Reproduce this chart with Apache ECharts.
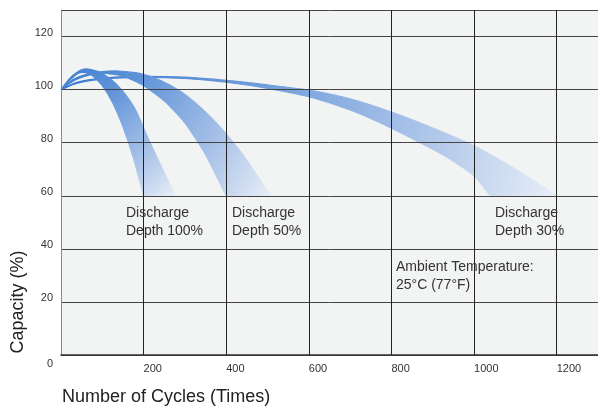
<!DOCTYPE html>
<html>
<head>
<meta charset="utf-8">
<script src="https://cdn.jsdelivr.net/npm/echarts@6/dist/echarts.min.js"></script>
<style>
  html, body { margin: 0; padding: 0; background: #fff; }
  #chart { width: 598px; height: 410px; }
</style>
</head>
<body>
<div id="chart"></div>
<script>
// axis ticks
const cycleTicks = [0, 200, 400, 600, 800, 1000, 1200]
const capacityTicks = [0, 20, 40, 60, 80, 100, 120]

// each band = outer edge + inner edge, [cycles, capacity %]
const depth100Outer = [[0, 100], [20, 104], [40, 106.6], [60, 107.8], [90, 106.8], [120, 104], [150, 99.3], [180, 92.5], [210, 82], [240, 72], [276, 60]]
const depth100Inner = [[0, 100], [20, 103.4], [40, 106], [55, 106.5], [75, 105.4], [100, 101.5], [125, 95.1], [150, 86], [175, 74.4], [200, 60]]

const depth50Outer = [[0, 100], [20, 102.8], [40, 104.6], [70, 106], [100, 106.8], [140, 107], [190, 106.1], [240, 103.5], [290, 99.3], [340, 93], [390, 85.1], [440, 75.5], [490, 64.1], [508, 60]]
const depth50Inner = [[0, 100], [20, 102.3], [40, 104], [70, 105.5], [100, 106.2], [150, 105.1], [200, 101.5], [250, 95.8], [300, 87.5], [350, 75.5], [400, 60]]

const depth30Outer = [[0, 100], [20, 101.6], [40, 102.8], [70, 103.8], [130, 104.7], [200, 105], [300, 104.7], [400, 103.5], [500, 101.8], [600, 99.8], [700, 96.5], [800, 91.5], [900, 85.5], [1000, 78.8], [1100, 70], [1200, 60]]
const depth30Inner = [[0, 100], [20, 101.3], [40, 102.4], [70, 103.4], [130, 104.3], [200, 104.6], [300, 104.2], [400, 102.8], [500, 100.5], [600, 97.3], [700, 92.3], [800, 85.5], [900, 77.5], [950, 73], [1000, 67.5], [1040, 60]]

const bandLabels = ['Discharge\nDepth 100%', 'Discharge\nDepth 50%', 'Discharge\nDepth 30%']
const noteText = 'Ambient Temperature:\n25°C (77°F)'

const textFont = 'Liberation Sans, Arial, sans-serif'

function bandGradient() {
  return new echarts.graphic.LinearGradient(0, 0, 1, 1, [
    { offset: 0, color: '#3b7dd0' },
    { offset: 0.3, color: '#6094d9' },
    { offset: 0.7, color: '#a9c2e8' },
    { offset: 1, color: '#e8eef7' }
  ])
}

function bandSeries(outer, inner) {
  return {
    type: 'custom',
    coordinateSystem: 'cartesian2d',
    data: [outer[0]],
    silent: true,
    renderItem: (params, api) => {
      // corners at the 60% end are doubled so the smoothing keeps them sharp
      var path = outer.concat([outer[outer.length - 1], inner[inner.length - 1]], inner.slice().reverse())
      var pts = path.map(p => api.coord(p))
      return {
        type: 'polygon',
        shape: { points: pts, smooth: 0.2 },
        style: { fill: bandGradient(), stroke: bandGradient(), lineWidth: 1.2 }
      }
    }
  }
}

var myChart = echarts.init(document.getElementById('chart'), null, { renderer: 'canvas' })

const option = {
  animation: false,
  backgroundColor: '#fff',
  grid: {
    left: 61, top: 10, right: 0, bottom: 55,
    show: true, backgroundColor: '#f2f3f3', borderWidth: 0
  },
  xAxis: {
    type: 'value',
    min: 0, max: 1300, interval: 200,
    z: 5,
    axisLine: { show: true, lineStyle: { color: '#333', width: 1.5 } },
    axisTick: { show: false },
    axisLabel: {
      align: 'left', margin: 8, showMaxLabel: false,
      color: '#333', fontSize: 11, fontFamily: textFont,
      formatter: (v) => (v > 0 && cycleTicks.includes(v)) ? String(v) : ''
    },
    splitLine: { show: true, lineStyle: { color: '#222', width: 1 } }
  },
  yAxis: {
    type: 'value',
    min: 0, max: 130, interval: 20,
    z: 5,
    axisLine: { show: true, lineStyle: { color: '#888', width: 1 } },
    axisTick: { show: false },
    axisLabel: {
      margin: 8, showMaxLabel: false, verticalAlign: 'middle',
      color: '#333', fontSize: 11, fontFamily: textFont,
      formatter: (v) => {
        if (!capacityTicks.includes(v)) return ''
        return v === 0 ? '{down|0}' : '{up|' + v + '}'
      },
      rich: {
        up: { padding: [0, 0, 8, 0], fontSize: 11, color: '#333', fontFamily: textFont },
        down: { padding: [18, 0, 0, 0], fontSize: 11, color: '#333', fontFamily: textFont }
      }
    },
    splitLine: { show: true, lineStyle: { color: '#444', width: 1 } }
  },
  graphic: [
    {
      type: 'text', left: 62, top: 388,
      style: { text: 'Number of Cycles (Times)', font: '18px ' + textFont, fill: '#222' }
    },
    {
      type: 'text', x: 18, y: 302, rotation: Math.PI / 2,
      style: { text: 'Capacity (%)', font: '18px ' + textFont, fill: '#222', align: 'center', verticalAlign: 'middle' }
    },
    {
      type: 'text', left: 126, top: 204, z: 10,
      style: { text: bandLabels[0], font: '14px ' + textFont, fill: '#333', lineHeight: 18 }
    },
    {
      type: 'text', left: 232, top: 204, z: 10,
      style: { text: bandLabels[1], font: '14px ' + textFont, fill: '#333', lineHeight: 18 }
    },
    {
      type: 'text', left: 495, top: 204, z: 10,
      style: { text: bandLabels[2], font: '14px ' + textFont, fill: '#333', lineHeight: 18 }
    },
    {
      type: 'text', left: 396, top: 258, z: 10,
      style: { text: noteText, font: '14px ' + textFont, fill: '#333', lineHeight: 18 }
    }
  ],
  series: [
    bandSeries(depth30Outer, depth30Inner),
    bandSeries(depth50Outer, depth50Inner),
    bandSeries(depth100Outer, depth100Inner)
  ]
}

myChart.setOption(option)
</script>
</body>
</html>
